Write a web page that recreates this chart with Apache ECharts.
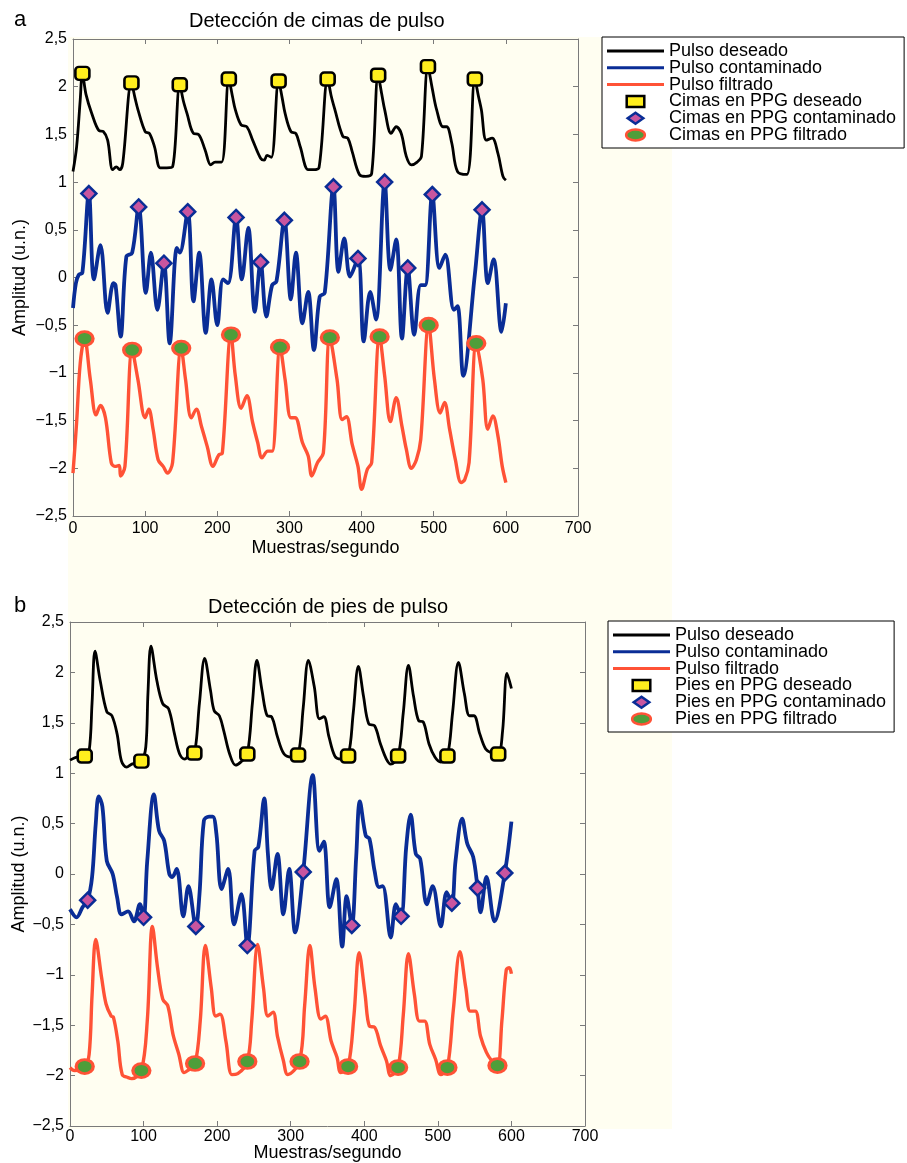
<!DOCTYPE html>
<html>
<head>
<meta charset="utf-8">
<script src="https://cdn.jsdelivr.net/npm/echarts@6.0.0/dist/echarts.min.js"></script>
<style>
  html, body { margin: 0; padding: 0; background: #fff; }
  #chart { width: 907px; height: 1163px; }
</style>
</head>
<body>
<div id="chart"></div>
<script>
// ---- panel a: cimas (peaks) ----
var blackA = [[0,1.11],[5,1.37],[10,1.86],[13,2.14],[18,1.92],[26,1.72],[36,1.54],[42,1.53],[48,1.44],[55,1.13],[60,1.16],[65,1.13],[69,1.2],[81,2.04],[86,1.88],[90,1.76],[100,1.53],[106,1.51],[113,1.37],[121,1.15],[130,1.15],[138,1.16],[148,2.02],[153,1.85],[158,1.72],[167,1.51],[174,1.5],[183,1.34],[191,1.18],[197,1.21],[206,1.21],[216,2.08],[221,1.9],[225,1.76],[233,1.6],[241,1.58],[249,1.44],[260,1.25],[265,1.23],[269,1.28],[275,1.26],[285,2.06],[290,1.88],[294,1.72],[302,1.53],[309,1.51],[315,1.37],[326,1.13],[333,1.13],[341,1.15],[353,2.08],[358,1.9],[363,1.76],[374,1.48],[381,1.46],[387,1.32],[397,1.08],[406,1.06],[414,1.09],[423,2.12],[428,1.92],[432,1.76],[441,1.51],[448,1.58],[455,1.51],[462,1.27],[469,1.18],[477,1.21],[483,1.27],[492,2.21],[498,1.98],[504,1.76],[513,1.58],[518,1.58],[525,1.41],[533,1.11],[546,1.08],[557,2.08],[562,1.9],[566,1.76],[573,1.44],[581,1.46],[589,1.3],[596,1.06],[600,1.02]];
var blueA = [[0,-0.32],[4,-0.06],[8,0.03],[13,0.05],[22,0.88],[29,-0.02],[38,0.34],[48,-0.37],[56,-0.06],[59,-0.08],[66,-0.62],[74,0.22],[82,0.26],[91,0.74],[101,-0.16],[108,0.26],[117,-0.34],[126,0.15],[134,-0.69],[144,0.31],[148,0.26],[159,0.69],[167,-0.25],[175,0.26],[184,-0.58],[192,-0.02],[200,-0.5],[208,-0.02],[215,-0.06],[226,0.63],[234,-0.02],[243,0.52],[252,-0.36],[260,0.16],[268,-0.41],[276,-0.08],[282,-0.04],[293,0.6],[302,-0.23],[309,0.26],[318,-0.48],[326,-0.15],[334,-0.76],[342,-0.2],[349,-0.16],[361,0.95],[368,0.06],[376,0.41],[384,0.01],[395,0.2],[403,-0.67],[412,-0.15],[420,-0.44],[432,1.0],[440,0.08],[448,0.4],[456,-0.64],[464,0.1],[473,-0.6],[482,-0.08],[488,-0.08],[498,0.87],[508,0.1],[516,0.24],[528,-0.34],[533,-0.3],[541,-1.03],[557,0.03],[567,0.71],[575,-0.06],[583,0.19],[594,-0.57],[600,-0.27]];
var redA = [[0,-2.05],[5,-1.52],[10,-0.9],[16,-0.64],[24,-1.07],[32,-1.44],[38,-1.34],[45,-1.47],[53,-1.94],[58,-1.98],[64,-1.97],[66,-2.08],[72,-1.98],[82,-0.76],[90,-1.07],[100,-1.47],[105,-1.38],[111,-1.59],[118,-1.91],[125,-1.98],[131,-2.05],[138,-1.94],[150,-0.74],[156,-1.07],[164,-1.47],[171,-1.38],[178,-1.56],[186,-1.77],[194,-1.98],[202,-1.86],[207,-1.84],[219,-0.6],[225,-1.03],[233,-1.37],[241,-1.24],[249,-1.52],[256,-1.73],[262,-1.89],[270,-1.82],[276,-1.82],[287,-0.73],[294,-1.07],[302,-1.47],[308,-1.47],[318,-1.73],[326,-1.87],[331,-2.08],[339,-1.94],[347,-1.84],[356,-0.63],[366,-1.07],[373,-1.49],[379,-1.46],[387,-1.75],[395,-1.98],[400,-2.22],[408,-2.01],[414,-1.94],[425,-0.62],[432,-1.03],[440,-1.51],[448,-1.26],[456,-1.56],[462,-1.8],[469,-2.0],[476,-1.91],[482,-1.7],[493,-0.5],[501,-1.07],[509,-1.42],[515,-1.31],[522,-1.59],[530,-1.91],[538,-2.15],[543,-2.12],[549,-1.94],[559,-0.69],[568,-1.07],[575,-1.59],[582,-1.45],[589,-1.66],[595,-1.98],[600,-2.15]];
var peaksBlackA = [[13,2.14],[81,2.04],[148,2.02],[216,2.08],[285,2.06],[353,2.08],[423,2.12],[492,2.21],[557,2.08]];
var peaksBlueA = [[22,0.88],[91,0.74],[126,0.15],[159,0.69],[226,0.63],[260,0.16],[293,0.6],[361,0.95],[395,0.2],[432,1.0],[464,0.1],[498,0.87],[567,0.71]];
var peaksRedA = [[16,-0.64],[82,-0.76],[150,-0.74],[219,-0.6],[287,-0.73],[356,-0.63],[425,-0.62],[493,-0.5],[559,-0.69]];

// ---- panel b: pies (feet) ----
var blackB = [[0,1.13],[9,1.16],[20,1.17],[26,1.22],[30,1.7],[34,2.21],[41,1.92],[50,1.61],[57,1.57],[64,1.39],[70,1.12],[77,1.06],[84,1.09],[97,1.12],[103,1.26],[106,1.8],[110,2.26],[118,1.92],[126,1.69],[134,1.64],[142,1.39],[149,1.19],[156,1.14],[163,1.19],[169,1.2],[176,1.7],[183,2.14],[191,1.82],[196,1.62],[203,1.57],[209,1.42],[217,1.19],[225,1.08],[232,1.11],[241,1.19],[248,1.7],[254,2.12],[261,1.82],[268,1.57],[274,1.56],[282,1.36],[291,1.19],[301,1.16],[310,1.18],[317,1.65],[324,2.12],[332,1.86],[339,1.54],[345,1.56],[352,1.36],[360,1.17],[368,1.14],[378,1.17],[385,1.6],[392,2.06],[399,1.76],[406,1.49],[414,1.47],[422,1.29],[430,1.14],[436,1.09],[446,1.17],[453,1.6],[460,2.07],[467,1.76],[474,1.52],[480,1.51],[488,1.29],[496,1.16],[504,1.11],[513,1.17],[520,1.6],[528,2.1],[536,1.79],[543,1.57],[549,1.57],[557,1.39],[565,1.24],[573,1.2],[582,1.19],[588,1.42],[594,1.99],[600,1.84]];
var blueB = [[0,-0.35],[9,-0.43],[17,-0.33],[24,-0.26],[30,-0.03],[35,0.5],[39,0.77],[44,0.67],[50,0.13],[58,0],[64,-0.23],[70,-0.4],[79,-0.37],[87,-0.47],[95,-0.3],[100,-0.43],[105,0.13],[114,0.79],[121,0.43],[128,0.33],[135,0],[139,-0.03],[145,0.05],[154,-0.42],[161,-0.12],[171,-0.52],[176,-0.2],[182,0.53],[189,0.57],[194,0.57],[199,0.4],[206,-0.15],[215,0.05],[223,-0.5],[233,-0.2],[241,-0.71],[251,0.23],[256,0.27],[264,0.75],[269,0.2],[274,-0.15],[282,0.2],[290,-0.4],[298,0.05],[306,-0.58],[317,0.02],[330,0.98],[339,0.23],[345,0.32],[353,-0.33],[362,-0.05],[370,-0.72],[376,-0.22],[383,-0.51],[389,0.17],[394,0.72],[402,0.38],[407,0.35],[414,0.03],[420,-0.13],[425,-0.12],[436,-0.63],[443,-0.3],[450,-0.42],[457,0.27],[463,0.59],[470,0.2],[476,0.15],[485,-0.3],[493,-0.12],[504,-0.52],[512,-0.18],[519,-0.29],[524,0.13],[533,0.55],[540,0.3],[548,0.17],[554,-0.14],[558,-0.38],[566,-0.03],[577,-0.47],[591,0.01],[600,0.52]];
var redB = [[0,-1.92],[6,-1.95],[20,-1.91],[26,-1.79],[30,-1.2],[35,-0.65],[43,-1.03],[49,-1.29],[56,-1.41],[59,-1.42],[65,-1.66],[71,-1.99],[79,-2.02],[84,-2.03],[97,-1.95],[105,-1.46],[112,-0.52],[119,-0.93],[126,-1.24],[133,-1.31],[140,-1.59],[148,-1.79],[155,-1.97],[160,-1.95],[170,-1.88],[177,-1.46],[184,-0.71],[192,-1.13],[198,-1.41],[204,-1.39],[212,-1.66],[220,-1.99],[228,-1.98],[241,-1.86],[247,-1.46],[255,-0.7],[263,-1.13],[269,-1.41],[276,-1.37],[282,-1.61],[290,-1.85],[296,-1.99],[312,-1.86],[319,-1.3],[326,-0.71],[333,-1.13],[341,-1.44],[347,-1.41],[355,-1.66],[363,-1.82],[368,-1.97],[378,-1.91],[386,-1.4],[393,-0.78],[401,-1.19],[407,-1.51],[414,-1.52],[422,-1.7],[430,-1.85],[436,-2.0],[446,-1.92],[453,-1.4],[460,-0.79],[468,-1.19],[475,-1.46],[482,-1.46],[489,-1.69],[497,-1.84],[504,-1.99],[513,-1.92],[521,-1.35],[530,-0.77],[538,-1.13],[544,-1.36],[551,-1.36],[558,-1.61],[566,-1.77],[573,-1.85],[581,-1.9],[587,-1.46],[593,-0.95],[597,-0.93],[600,-0.99]];
var feetBlackB = [[20,1.17],[97,1.12],[169,1.2],[241,1.19],[310,1.18],[378,1.17],[446,1.17],[513,1.17],[582,1.19]];
var feetBlueB = [[24,-0.26],[100,-0.43],[171,-0.52],[241,-0.71],[317,0.02],[383,-0.51],[450,-0.42],[519,-0.29],[554,-0.14],[591,0.01]];
var feetRedB = [[20,-1.91],[97,-1.95],[170,-1.88],[241,-1.86],[312,-1.86],[378,-1.91],[446,-1.92],[513,-1.92],[581,-1.9]];

var lineNames = ['Pulso deseado', 'Pulso contaminado', 'Pulso filtrado'];
var markNamesA = ['Cimas en PPG deseado', 'Cimas en PPG contaminado', 'Cimas en PPG filtrado'];
var markNamesB = ['Pies en PPG deseado', 'Pies en PPG contaminado', 'Pies en PPG filtrado'];
var titles = ['Detección de cimas de pulso', 'Detección de pies de pulso'];

function renderChart() {
    var dom = document.getElementById('chart');
    var myChart = echarts.init(dom, null, { renderer: 'canvas' });
    var font = 'Liberation Sans, Arial, Helvetica, sans-serif';
    var axisGray = '#7a7a7a';
    var cream = '#FFFEF1';

    var colors = { black: '#000000', blue: '#0A2D96', red: '#FF5236' };

    // legend icons (path icons keep their aspect inside the legend item box)
    var icons = {
        line: 'path://M0,0H57V3H0Z',
        square: 'path://M0,0H16V10H0Z',
        diamond: 'path://M8.5,0L17,6L8.5,12L0,6Z',
        ellipse: 'path://M0,5.5A9.35,5.5,0,1,1,18.7,5.5A9.35,5.5,0,1,1,0,5.5Z'
    };

    function fmt(v) {
        return String(v).replace('.', ',').replace('-', '\u2212');
    }

    function xAx(grid, pos, labelMargin, nameGap) {
        var main = pos === 'bottom';
        return {
            type: 'value', gridIndex: grid, position: pos,
            min: 0, max: 700, interval: 100,
            name: main ? 'Muestras/segundo' : '',
            nameLocation: 'middle', nameGap: nameGap, nameMoveOverlap: false,
            nameTextStyle: { fontSize: 18, color: '#000', fontFamily: font },
            axisLine: { show: true, onZero: false, lineStyle: { color: axisGray, width: 1 } },
            axisTick: { show: true, inside: true, length: 5, lineStyle: { color: axisGray } },
            axisLabel: { show: main, margin: labelMargin, fontSize: 16, color: '#000', fontFamily: font },
            splitLine: { show: false }
        };
    }

    function yAx(grid, pos, nameGap) {
        var main = pos === 'left';
        return {
            type: 'value', gridIndex: grid, position: pos,
            min: -2.5, max: 2.5, interval: 0.5,
            name: main ? 'Amplitud (u.n.)' : '',
            nameLocation: 'middle', nameGap: nameGap, nameMoveOverlap: false,
            nameTextStyle: { fontSize: 18, color: '#000', fontFamily: font },
            axisLine: { show: true, onZero: false, lineStyle: { color: axisGray, width: 1 } },
            axisTick: { show: true, inside: true, length: 5, lineStyle: { color: axisGray } },
            axisLabel: { show: main, margin: 6, fontSize: 16, color: '#000', fontFamily: font, formatter: fmt },
            splitLine: { show: false }
        };
    }

    function line(name, data, color, width, xi, yi) {
        return {
            name: name, type: 'line', data: data, xAxisIndex: xi, yAxisIndex: yi,
            symbol: 'none', smooth: 0.35, z: 2,
            lineStyle: { color: color, width: width },
            itemStyle: { color: color }
        };
    }

    function marks(name, data, symbol, size, fill, border, bw, xi, yi) {
        return {
            name: name, type: 'scatter', data: data, xAxisIndex: xi, yAxisIndex: yi,
            symbol: symbol, symbolSize: size, z: 5,
            itemStyle: { color: fill, borderColor: border, borderWidth: bw, opacity: 1 }
        };
    }

    function legend(markNames, left, top) {
        var items = [
            { name: lineNames[0], icon: icons.line },
            { name: lineNames[1], icon: icons.line },
            { name: lineNames[2], icon: icons.line },
            { name: markNames[0], icon: icons.square, itemStyle: { borderWidth: 2.5 } },
            { name: markNames[1], icon: icons.diamond, itemStyle: { borderWidth: 2.5 } },
            { name: markNames[2], icon: icons.ellipse, itemStyle: { borderWidth: 2.5 } }
        ];
        return {
            orient: 'vertical', left: left, top: top,
            itemWidth: 57, itemHeight: 11, itemGap: -1.2,
            padding: [5, 8, 4, 5],
            symbolKeepAspect: true,
            backgroundColor: '#ffffff', borderColor: '#000', borderWidth: 1, borderRadius: 0,
            selectedMode: false,
            textStyle: { fontSize: 18, lineHeight: 16, color: '#000', fontFamily: font },
            data: items
        };
    }

    var option = {
        backgroundColor: '#ffffff',
        animation: false,
        textStyle: { fontFamily: font },
        graphic: [{
            type: 'rect', silent: true, z: -10,
            shape: { x: 68, y: 37, width: 604, height: 1092 },
            style: { fill: cream }
        }],
        title: [
            { text: 'a', left: 9, top: 4, textStyle: { fontSize: 22, fontWeight: 'normal', color: '#000', fontFamily: font } },
            { text: titles[0], left: 184, top: 6, textStyle: { fontSize: 20, fontWeight: 'normal', color: '#000', fontFamily: font } },
            { text: 'b', left: 9, top: 590, textStyle: { fontSize: 22, fontWeight: 'normal', color: '#000', fontFamily: font } },
            { text: titles[1], left: 203, top: 592, textStyle: { fontSize: 20, fontWeight: 'normal', color: '#000', fontFamily: font } }
        ],
        legend: [
            legend(markNamesA, 602, 37),
            legend(markNamesB, 608, 621)
        ],
        grid: [
            { left: 73, top: 39, width: 505, height: 477 },
            { left: 70, top: 622, width: 515, height: 504 }
        ],
        xAxis: [xAx(0, 'bottom', 5, 23), xAx(0, 'top', 5, 0), xAx(1, 'bottom', 3, 18), xAx(1, 'top', 3, 0)],
        yAxis: [yAx(0, 'left', 44), yAx(0, 'right', 0), yAx(1, 'left', 42), yAx(1, 'right', 0)],
        series: [
            line(lineNames[0], blackA, colors.black, 2.8, 0, 0),
            line(lineNames[1], blueA, colors.blue, 3.8, 0, 0),
            line(lineNames[2], redA, colors.red, 3.4, 0, 0),
            marks(markNamesA[0], peaksBlackA, 'roundRect', [14, 13], '#FFEE1E', '#000', 2.5, 0, 0),
            marks(markNamesA[1], peaksBlueA, 'diamond', [15, 15], '#C8559F', colors.blue, 2.5, 0, 0),
            marks(markNamesA[2], peaksRedA, 'circle', [17, 14], '#4E9E3A', colors.red, 3, 0, 0),

            line(lineNames[0], blackB, colors.black, 2.8, 2, 2),
            line(lineNames[1], blueB, colors.blue, 3.8, 2, 2),
            line(lineNames[2], redB, colors.red, 3.4, 2, 2),
            marks(markNamesB[0], feetBlackB, 'roundRect', [14, 13], '#FFEE1E', '#000', 2.5, 2, 2),
            marks(markNamesB[1], feetBlueB, 'diamond', [15, 15], '#C8559F', colors.blue, 2.5, 2, 2),
            marks(markNamesB[2], feetRedB, 'circle', [17, 14], '#4E9E3A', colors.red, 3, 2, 2)
        ]
    };

    if (option && typeof option === 'object') {
        myChart.setOption(option);
    }
}
renderChart();
</script>
</body>
</html>
